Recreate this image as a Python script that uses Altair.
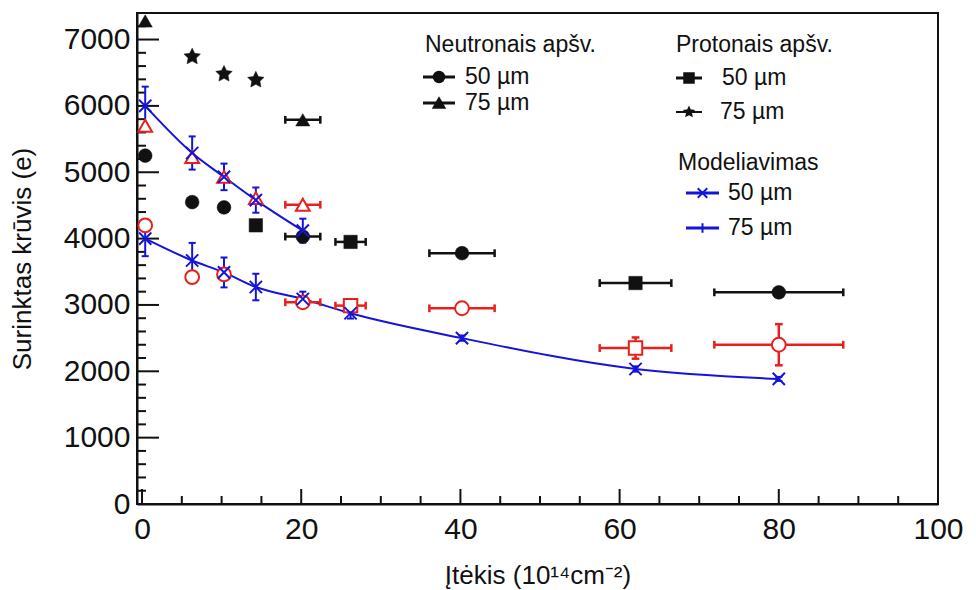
import altair as alt
import pandas as pd

# ---------------- data ----------------
# Neutron irradiation (black filled)
N50_X = [0.4, 6.3, 10.3, 20.2, 40.2, 80.0]
N50_Y = [5250, 4550, 4470, 4030, 3780, 3190]
N50_XERR = [0, 0, 0, 2.2, 4.1, 8.1]

N75_X = [0.4, 20.2]
N75_Y = [7280, 5790]
N75_XERR = [0, 2.2]

# Proton irradiation (black filled)
P50_X = [14.3, 26.2, 62.0]
P50_Y = [4200, 3950, 3330]
P50_XERR = [0, 1.9, 4.5]

P75_X = [6.3, 10.3, 14.3]
P75_Y = [6740, 6480, 6390]

# Red open markers
RT_X = [0.4, 6.3, 10.3, 14.3, 20.2]
RT_Y = [5700, 5230, 4930, 4610, 4510]
RT_XERR = [0, 0, 0, 0, 2.2]

RC_X = [0.4, 6.3, 10.3, 20.2, 40.2, 80.0]
RC_Y = [4200, 3420, 3460, 3040, 2950, 2400]
RC_XERR = [0, 0, 0, 2.2, 4.1, 8.1]
RC_YERR = [0, 0, 0, 0, 0, 310]

RS_X = [26.2, 62.0]
RS_Y = [2990, 2350]
RS_XERR = [1.9, 4.5]
RS_YERR = [0, 160]

# Modelling (blue)
M75_X = [0.4, 6.3, 10.3, 14.3, 20.2]
M75_Y = [6000, 5290, 4930, 4580, 4120]
M75_YERR = [290, 250, 200, 190, 180]

M50_X = [0.4, 6.3, 10.3, 14.3, 20.2, 26.2, 40.2, 62.0, 80.0]
M50_Y = [4000, 3670, 3490, 3270, 3090, 2875, 2500, 2035, 1885]
M50_YERR = [265, 265, 225, 200, 110, 80, 40, 40, 30]

# axis ticks
X_LABELS = [0, 20, 40, 60, 80, 100]
X_MINOR = [5, 10, 15, 25, 30, 35, 45, 50, 55, 65, 70, 75, 85, 90, 95]
Y_LABELS = [0, 1000, 2000, 3000, 4000, 5000, 6000, 7000]
Y_MINOR = [v for v in range(200, 7400, 200) if v % 1000 != 0]

X_TITLE = "Įtėkis (10¹⁴cm⁻²)"
Y_TITLE = "Surinktas krūvis (e)"

# ---------------- styling ----------------
FONT = "Liberation Sans"
BLACK = "#111111"
RED = "#e8201c"
BLUE = "#1414dc"
W, H = 801, 491

STAR = ("M0,-1L0.29,-0.4L0.951,-0.309L0.47,0.15L0.588,0.809L0,0.5"
        "L-0.588,0.809L-0.47,0.15L-0.951,-0.309L-0.29,-0.4Z")
XMARK = "M-1,-1L1,1M-1,1L1,-1"

xscale = alt.Scale(domain=[-0.63, 100], nice=False, zero=False)
yscale = alt.Scale(domain=[0, 7400], nice=False, zero=False)
xaxis = alt.Axis(values=X_LABELS, title=X_TITLE, grid=False, ticks=False, format="d",
                 labelPadding=10, titlePadding=18, labelFlush=False)
yaxis = alt.Axis(values=Y_LABELS, title=Y_TITLE, grid=False, ticks=False, format="d",
                 labelPadding=7, titlePadding=28)


def X(f):
    return alt.X(f, type="quantitative", scale=xscale, axis=xaxis)


def Y(f):
    return alt.Y(f, type="quantitative", scale=yscale, axis=yaxis)


def frame(xs, ys, xerr=None, yerr=None):
    n = len(xs)
    xerr = xerr if xerr is not None else [0] * n
    yerr = yerr if yerr is not None else [0] * n
    return pd.DataFrame({
        "x": xs, "y": ys, "xe": xerr, "ye": yerr,
        "xlo": [a - e for a, e in zip(xs, xerr)],
        "xhi": [a + e for a, e in zip(xs, xerr)],
        "ylo": [a - e for a, e in zip(ys, yerr)],
        "yhi": [a + e for a, e in zip(ys, yerr)],
    })


def errbars(d, color, width=2.5, capsize=60):
    base = alt.Chart(d)
    layers = []
    bx = base.transform_filter("datum.xe > 0")
    layers.append(bx.mark_rule(color=color, strokeWidth=width).encode(
        x=X("xlo"), x2=alt.X2("xhi"), y=Y("y")))
    for f in ("xlo", "xhi"):
        layers.append(bx.mark_point(shape="stroke", angle=90, size=capsize, stroke=color,
                                    strokeWidth=width, opacity=1).encode(x=X(f), y=Y("y")))
    by = base.transform_filter("datum.ye > 0")
    layers.append(by.mark_rule(color=color, strokeWidth=width).encode(
        x=X("x"), y=Y("ylo"), y2=alt.Y2("yhi")))
    for f in ("ylo", "yhi"):
        layers.append(by.mark_point(shape="stroke", size=capsize, stroke=color,
                                    strokeWidth=width, opacity=1).encode(x=X("x"), y=Y(f)))
    return layers


def filled_pts(d, shape, size, color=BLACK):
    return alt.Chart(d).mark_point(shape=shape, size=size, filled=True, fill=color,
                                   stroke=color, strokeWidth=0.5, opacity=1).encode(x=X("x"), y=Y("y"))


def open_pts(d, shape, size, color=RED):
    return alt.Chart(d).mark_point(shape=shape, size=size, filled=True, fill="white",
                                   stroke=color, strokeWidth=2, opacity=1, fillOpacity=1).encode(x=X("x"), y=Y("y"))


n50 = frame(N50_X, N50_Y, N50_XERR)
n75 = frame(N75_X, N75_Y, N75_XERR)
p50 = frame(P50_X, P50_Y, P50_XERR)
p75 = frame(P75_X, P75_Y)
rt = frame(RT_X, RT_Y, RT_XERR)
rc = frame(RC_X, RC_Y, RC_XERR, RC_YERR)
rs = frame(RS_X, RS_Y, RS_XERR, RS_YERR)
m75 = frame(M75_X, M75_Y, None, M75_YERR)
m50 = frame(M50_X, M50_Y, None, M50_YERR)

layers = []

# inward ticks
tick_x_major = alt.Chart(pd.DataFrame({"v": X_LABELS})).mark_rule(color=BLACK, strokeWidth=2).encode(
    x=X("v"), y=alt.value(H), y2=alt.value(H - 15))
tick_x_minor = alt.Chart(pd.DataFrame({"v": X_MINOR})).mark_rule(color=BLACK, strokeWidth=2).encode(
    x=X("v"), y=alt.value(H), y2=alt.value(H - 8))
tick_y_major = alt.Chart(pd.DataFrame({"v": Y_LABELS})).mark_rule(color=BLACK, strokeWidth=2).encode(
    y=Y("v"), x=alt.value(0), x2=alt.value(22))
tick_y_minor = alt.Chart(pd.DataFrame({"v": Y_MINOR})).mark_rule(color=BLACK, strokeWidth=2).encode(
    y=Y("v"), x=alt.value(0), x2=alt.value(9))
layers += [tick_x_major, tick_x_minor, tick_y_major, tick_y_minor]

# model curves
for d in (m75, m50):
    layers.append(alt.Chart(d).mark_line(color=BLUE, strokeWidth=2, interpolate="monotone").encode(
        x=X("x"), y=Y("y")))
    layers += errbars(d, BLUE, width=2, capsize=50)

# experimental error bars
for d, c in ((n50, BLACK), (n75, BLACK), (p50, BLACK), (rt, RED), (rc, RED), (rs, RED)):
    layers += errbars(d, c)

# markers
layers.append(open_pts(rt, "triangle-up", 190))
layers.append(open_pts(rc, "circle", 190))
layers.append(open_pts(rs, "square", 180))
layers.append(filled_pts(n50, "circle", 190))
layers.append(filled_pts(n75, "triangle-up", 200))
layers.append(filled_pts(p50, "square", 180))
layers.append(filled_pts(p75, STAR, 300))
for d in (m75, m50):
    layers.append(alt.Chart(d).mark_point(shape=XMARK, size=150, filled=False, stroke=BLUE,
                                          strokeWidth=2, opacity=1).encode(x=X("x"), y=Y("y")))


# ---------------- legend (annotation) ----------------
def ltext(label, px, py):
    return alt.Chart(pd.DataFrame({"t": [label]})).mark_text(
        align="left", baseline="middle", font=FONT, fontSize=23, color=BLACK).encode(
        x=alt.value(px), y=alt.value(py), text="t:N")


def lsym(label, px0, px1, py, shape, size, color, filled=True, width=3):
    d = pd.DataFrame({"t": [label]})
    line = alt.Chart(d).mark_rule(color=color, strokeWidth=width).encode(
        x=alt.value(px0), x2=alt.value(px1), y=alt.value(py))
    if shape is None:
        return [line]
    if filled:
        pt = alt.Chart(d).mark_point(shape=shape, size=size, filled=True, fill=color, stroke=color,
                                     opacity=1).encode(x=alt.value((px0 + px1) / 2), y=alt.value(py))
    else:
        pt = alt.Chart(d).mark_point(shape=shape, size=size, filled=False, stroke=color, strokeWidth=2,
                                     opacity=1).encode(x=alt.value((px0 + px1) / 2), y=alt.value(py))
    return [line, pt]


UM = "µm"
layers.append(ltext("Neutronais apšv.", 288, 32))
layers += lsym("n50", 286, 318, 64, "circle", 110, BLACK)
layers.append(ltext("50 " + UM, 328, 64))
layers += lsym("n75", 286, 318, 90, "triangle-up", 120, BLACK)
layers.append(ltext("75 " + UM, 328, 90))

layers.append(ltext("Protonais apšv.", 539, 32))
layers += lsym("p50", 539, 565, 65, "square", 90, BLACK)
layers.append(ltext("50 " + UM, 585, 65))
layers += lsym("p75", 539, 565, 99, STAR, 70, BLACK, width=2)
layers.append(ltext("75 " + UM, 583, 99))

layers.append(ltext("Modeliavimas", 541, 150))
layers += lsym("m50", 549, 582, 180, XMARK, 90, BLUE, filled=False)
layers.append(ltext("50 " + UM, 591, 180))
layers += lsym("m75", 549, 582, 215, "M0,-1L0,1", 90, BLUE, filled=False)
layers.append(ltext("75 " + UM, 591, 215))

chart = alt.layer(*layers).properties(
    width=W, height=H,
    autosize=alt.AutoSizeParams(type="none"),
    padding={"left": 137, "top": 13, "right": 38, "bottom": 86},
    background="white",
).configure_view(
    stroke=BLACK, strokeWidth=2
).configure_axis(
    domain=True, domainColor=BLACK, domainWidth=2,
    labelFont=FONT, labelFontSize=30, labelColor=BLACK,
    titleFont=FONT, titleFontSize=26, titleColor=BLACK, titleFontWeight="normal",
)

chart.save("out.html", embed_options={"renderer": "svg", "actions": False})
